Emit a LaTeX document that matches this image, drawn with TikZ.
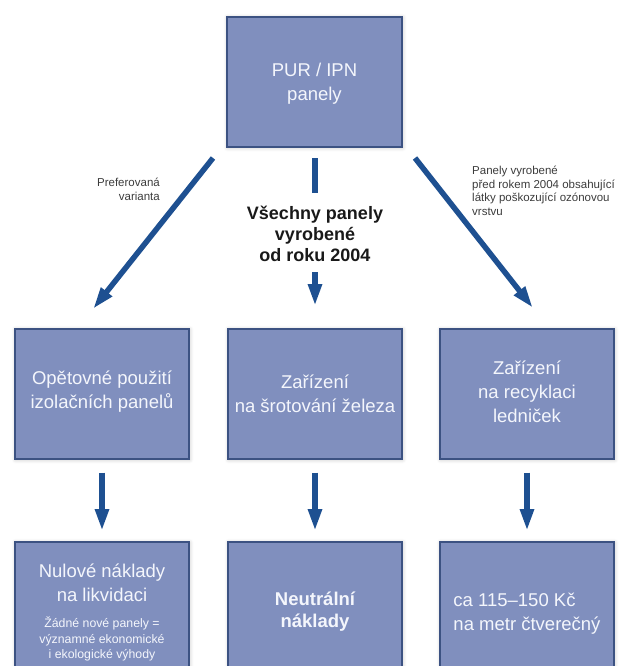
\documentclass[tikz,border=0pt]{standalone}
\usepackage{fontspec}
\setmainfont{Liberation Sans}
\usetikzlibrary{arrows.meta,shadows.blur}
\definecolor{boxfill}{RGB}{128,143,190}
\definecolor{boxline}{RGB}{60,82,130}
\definecolor{arrowblue}{RGB}{30,80,145}
\definecolor{boxtext}{RGB}{244,246,252}
\definecolor{labeltext}{RGB}{60,60,60}
\begin{document}
\begin{tikzpicture}[x=1pt,y=-1pt,
  panel/.style={draw=boxline, line width=1.2pt, fill=boxfill,
    minimum width=174pt, minimum height=130pt, inner sep=0pt,
    blur shadow={shadow blur steps=6, shadow xshift=0.6pt, shadow yshift=-0.6pt,
      shadow opacity=25, shadow blur radius=4pt}},
  paneltext/.style={text=boxtext, align=center, inner sep=0pt, font=\fontsize{18.5}{24}\selectfont},
  smalltext/.style={text=boxtext, align=center, inner sep=0pt, font=\fontsize{12.3}{15.5}\selectfont},
  flowarrow/.style={draw=arrowblue, line width=5.5pt, line cap=butt,
    -{Triangle[width=13pt,length=22pt]}},
  flowbar/.style={draw=arrowblue, line width=5.5pt, line cap=butt},
  sidelabel/.style={text=labeltext, font=\fontsize{11.5}{13.5}\selectfont, inner sep=0pt},
  centerlabel/.style={text=black!90, align=center, font=\fontsize{18}{21}\selectfont\bfseries, inner sep=0pt}
]
\useasboundingbox (0,0) rectangle (622,666);
\begin{scope}
\clip (0,0) rectangle (622,666);
% top box
\node[panel, minimum width=175pt] (top) at (314.5,82) {};
\node[paneltext] (toptxt) at (314.5,84) {PUR / IPN\\panely};
% middle row
\node[panel] (m1) at (102,394) {};
\node[panel] (m2) at (315,394) {};
\node[panel] (m3) at (527,394) {};
\node[paneltext] (m1t) at (102,391.5) {Opětovné použití\\izolačních panelů};
\node[paneltext] (m2t) at (315,393.5) {Zařízení\\na šrotování železa};
\node[paneltext] (m3t) at (527,392) {Zařízení\\na recyklaci\\ledniček};
% bottom row
\node[panel, minimum height=140pt] (b1) at (102,612) {};
\node[panel, minimum height=140pt] (b2) at (315,612) {};
\node[panel, minimum height=140pt] (b3) at (527,612) {};
\node[paneltext] (b1t) at (102,583) {Nulové náklady\\na likvidaci};
\node[smalltext] (b1s) at (102,639) {Žádné nové panely =\\významné ekonomické\\i ekologické výhody};
\node[paneltext, font=\fontsize{18.5}{22}\selectfont\bfseries] (b2t) at (315,612) {Neutrální\\náklady};
\node[paneltext, align=left] (b3t) at (527,614) {ca 115–150 Kč\\na metr čtverečný};
% connectors top
\coordinate (ls) at (213,158);
\coordinate (le) at (93,309);
\coordinate (rs) at (415,158);
\coordinate (re) at (533,308);
\coordinate (cs) at (315,158);
\coordinate (ce) at (315,193);
\node[centerlabel] (ctext) at (315,234) {Všechny panely\\vyrobené\\od roku 2004};
\coordinate (cs2) at (315,272);
\coordinate (ce2) at (315,306);
\draw[flowarrow] (ls) -- (le);
\draw[flowarrow] (rs) -- (re);
\draw[flowbar] (cs) -- (ce);
\draw[flowarrow] (cs2) -- (ce2);
\node[sidelabel, anchor=north east, align=right] (lab1) at (160,178) {Preferovaná\\varianta};
\node[sidelabel, anchor=north west, align=left] (lab2) at (472,166) {Panely vyrobené\\před rokem 2004 obsahující\\látky poškozující ozónovou\\vrstvu};
% connectors bottom
\coordinate (a1) at ([yshift=-13pt]m1.south);
\coordinate (a2) at ([yshift=-13pt]m2.south);
\coordinate (a3) at ([yshift=-13pt]m3.south);
\coordinate (t1) at (102,531);
\coordinate (t2) at (315,531);
\coordinate (t3) at (527,531);
\draw[flowarrow] (a1) -- (t1);
\draw[flowarrow] (a2) -- (t2);
\draw[flowarrow] (a3) -- (t3);
\end{scope}
\end{tikzpicture}
\end{document}
